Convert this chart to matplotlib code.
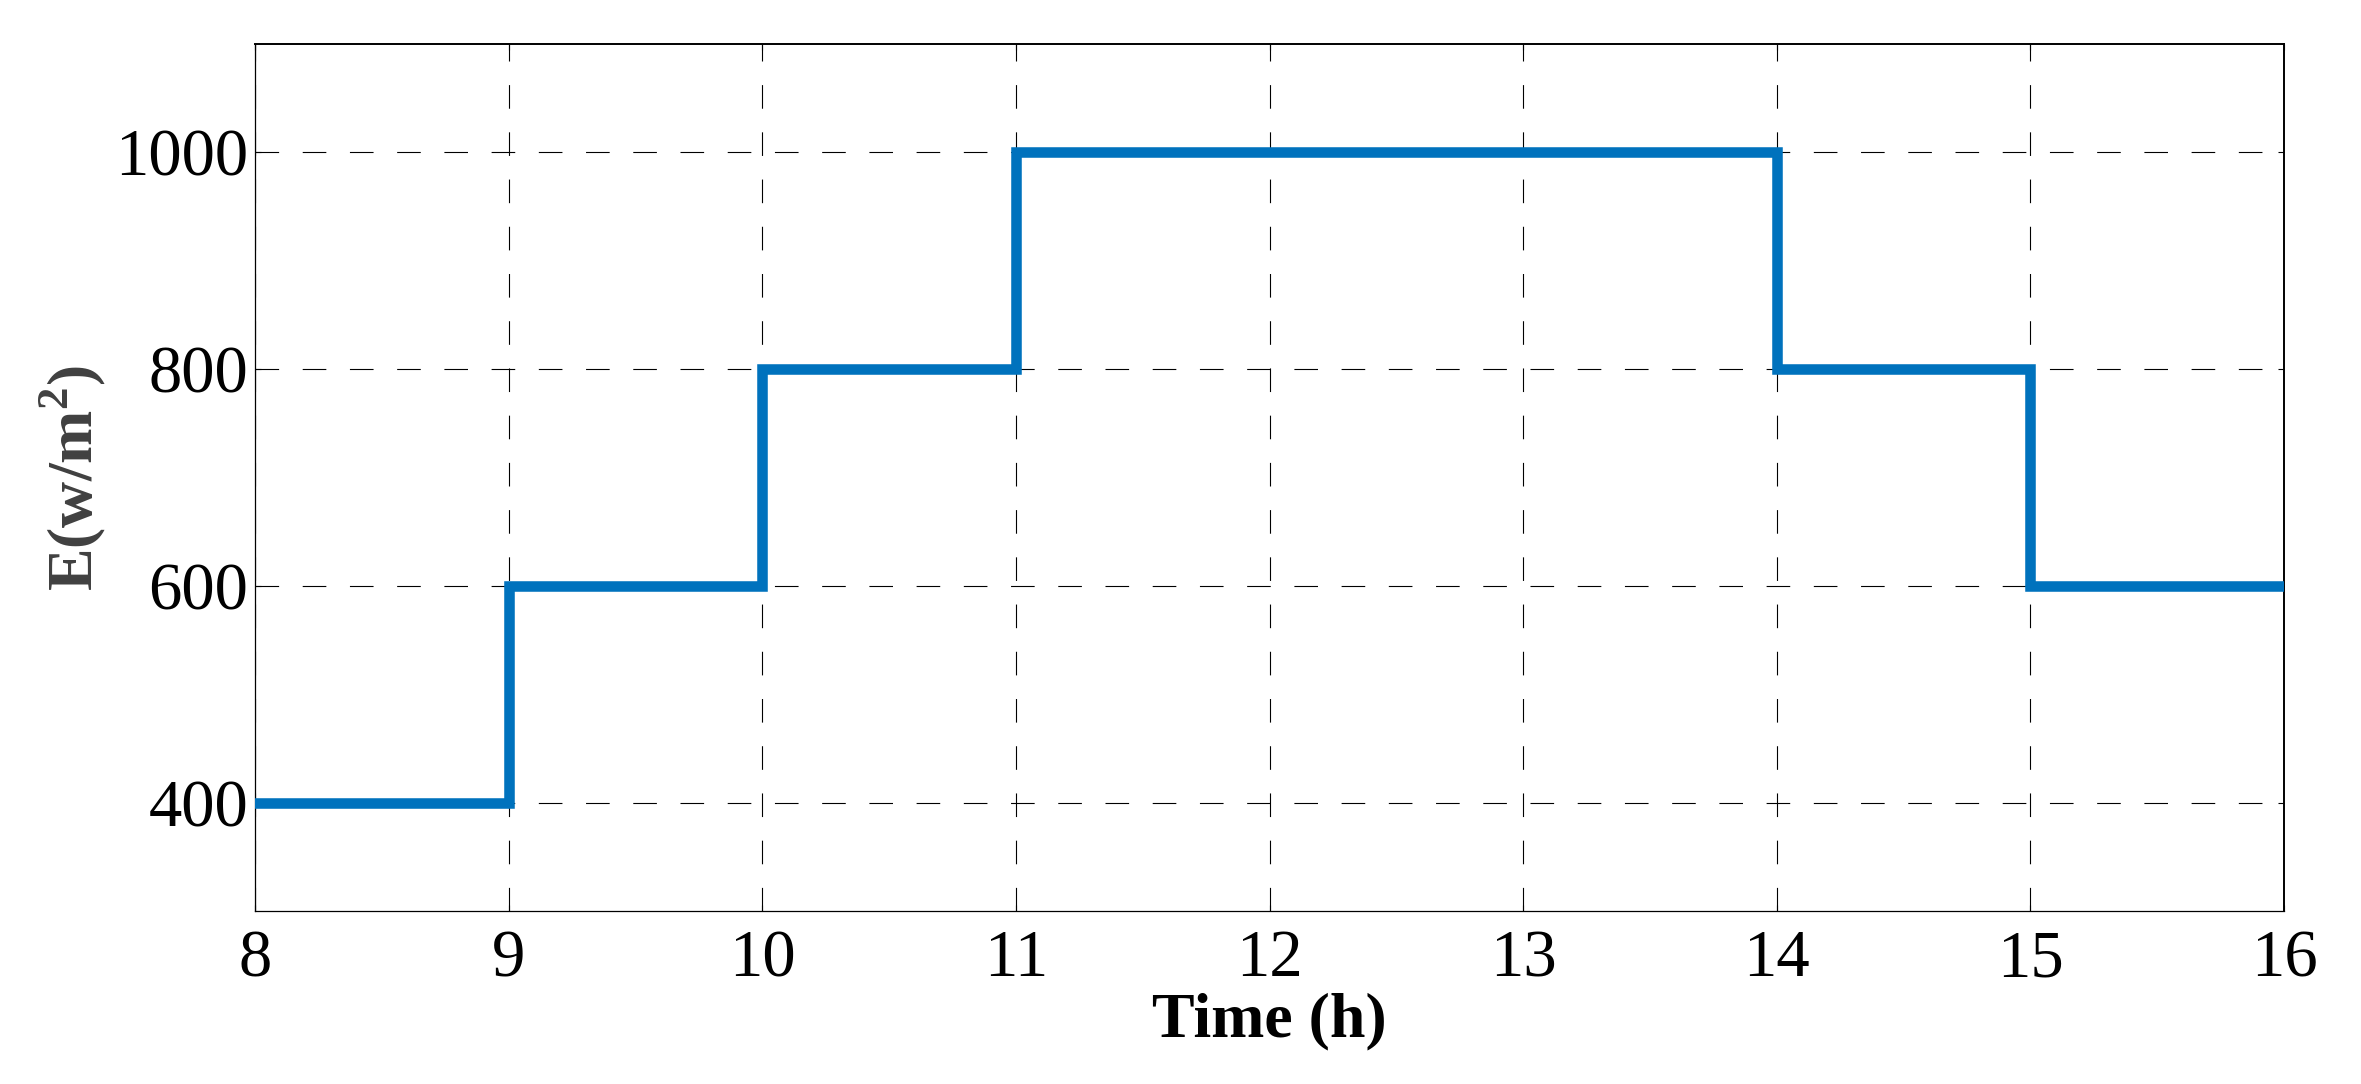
import matplotlib.pyplot as plt
import matplotlib as mpl

# step levels of irradiance over the day
time_edges = [8, 9, 10, 11, 14, 15, 16]
irradiance = [400, 600, 800, 1000, 800, 600, 600]
x_ticks = [8, 9, 10, 11, 12, 13, 14, 15, 16]
y_ticks = [400, 600, 800, 1000]

mpl.rcParams['font.family'] = ['Liberation Serif', 'DejaVu Serif']
mpl.rcParams['mathtext.fontset'] = 'custom'
mpl.rcParams['mathtext.rm'] = 'Liberation Serif'
mpl.rcParams['mathtext.bf'] = 'Liberation Serif:bold'
mpl.rcParams['lines.scale_dashes'] = False

figure = plt.figure(figsize=(23.61, 10.84), dpi=100)
axes = figure.add_axes([0.108, 0.1596, 0.8594, 0.7998])

axes.step(time_edges, irradiance, where='post', color='#0072BD', linewidth=7.6,
          solid_joinstyle='miter', zorder=3)

axes.set_xlim(8, 16)
axes.set_ylim(300, 1100)
axes.set_xticks(x_ticks)
axes.set_yticks(y_ticks)

axes.grid(True, color='black', linestyle=(0, (17, 17)), linewidth=0.8)

axes.tick_params(direction='in', length=4, width=0.8, labelsize=48,
                 top=True, right=True)
axes.tick_params(axis='x', pad=13)
axes.tick_params(axis='y', pad=5)

for side in ['left', 'bottom']:
    axes.spines[side].set_linewidth(0.9)
for side in ['top', 'right']:
    axes.spines[side].set_linewidth(1.4)

axes.set_xlabel('Time (h)', fontsize=46, fontweight='bold', labelpad=2)
axes.set_ylabel(r'E(w/m$^{\mathbf{2}}$)', fontsize=46, fontweight='bold',
                color='#404040', labelpad=5)

figure.savefig('out.png', dpi=100)
